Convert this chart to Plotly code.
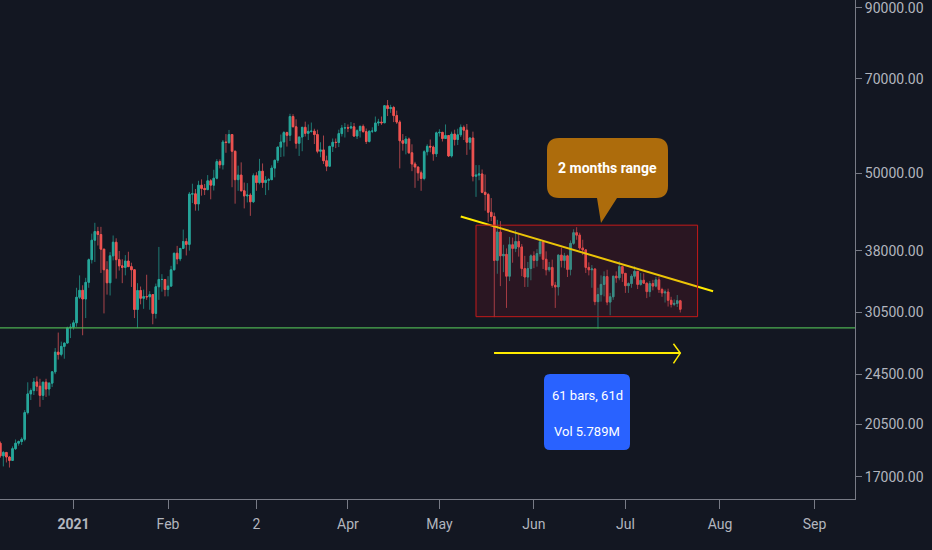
"""BTC daily candles, Dec 2020 - Jul 2021, with the range annotations on a dark chart."""
import pandas as pd
import plotly.graph_objects as go

# values, one row per day starting at FIRST_DAY
FIRST_DAY = "2020-12-08"

opens = [
    19170, 18325, 18550, 18250, 18030, 18800, 19170, 19280, 19440, 21370, 22840, 23110, 23830, 23470, 22720, 23810,
    23240, 23730, 24700, 26490, 26280, 27040, 27360, 28880,
    28950, 29400, 32200, 33000, 32000, 33950, 36800, 39430, 40670, 40240, 38200, 35500, 33900, 37300, 39150, 36800,
    36000, 35800, 36620, 35900, 35500, 30830, 32980, 32080, 32270, 32250, 32500, 30400, 33420, 34300, 34300,
    33100, 33500, 35500, 37650, 36900, 38300, 39250, 38850, 46450, 46500, 44850, 47950, 47400, 47200, 48700, 47950,
    49150, 52150, 51550, 55900, 55800, 57400, 54100, 48900, 49700, 47000, 46150, 46300,
    45200, 49600, 48400, 50400, 48400, 48800, 48900, 50950, 52400, 54900, 55900, 57800, 57250, 61200, 59000, 55650,
    56900, 58900, 57650, 58050, 58100, 57400, 54100, 54350, 52300, 51300, 55050, 55850, 55800, 57600, 58750,
    58800, 58750, 59000, 57100, 58200, 59100, 58000, 56000, 58100, 58100, 59800, 60000, 59850, 63600, 62950, 63200,
    61400, 60000, 56150, 55650, 56500, 53800, 51700, 51150, 50100, 49100, 54000, 55050, 54900, 53600,
    57750, 57850, 56600, 57200, 53200, 57500, 56400, 57350, 58900, 58300, 55850, 56700, 49500, 49700, 49900, 46750,
    46400, 43550, 42900, 36700, 40600, 37300, 37500, 34700, 38800, 38300, 39250, 38500, 35650, 34600, 35650,
    37300, 36700, 37600, 39200, 36850, 35500, 35800, 33600, 33400, 37400, 36700, 37300, 35550, 39000, 40500, 40150,
    38350, 38100, 35800, 35500, 35600, 31700, 32500, 33700, 34650, 31650, 32250, 34700, 34500, 35900,
    35050, 33550, 33800, 34700, 35300, 33700, 34200, 33850, 32850, 33800, 33500, 34250, 33100, 32700, 32800, 31850,
    31400, 31500, 31800,
]
highs = [
    19290, 18640, 18560, 18290, 18950, 19420, 19350, 19570, 21560, 23800, 23285, 24170, 24300, 24100, 23840, 24100,
    23800, 24770, 26880, 28400, 27500, 27400, 29000, 29300,
    29680, 33300, 34800, 33600, 34500, 36950, 40365, 41950, 41350, 41350, 38200, 36600, 37800, 40100, 39700, 37950,
    36850, 37400, 37850, 36400, 35600, 33850, 33450, 33080, 34880, 32900, 32550, 33800, 38500, 34950, 34350,
    34700, 36000, 37700, 38650, 38300, 40950, 39700, 46800, 48200, 47300, 48700, 48950, 48150, 49700, 49000, 50650,
    52600, 52550, 56300, 57500, 58350, 57500, 54200, 51400, 52000, 48400, 48300, 46600,
    50000, 50200, 52650, 51800, 49500, 49200, 51450, 52400, 54900, 57400, 58100, 58000, 61800, 61700, 60600, 56950,
    58950, 60100, 59500, 59900, 58600, 58400, 55850, 57200, 53250, 55100, 56600, 56600, 58400, 59400, 59800,
    59500, 60000, 59800, 58500, 59250, 59500, 58650, 58200, 58900, 61200, 60700, 61200, 63750, 64900, 63800, 63550,
    62500, 60400, 57500, 57100, 56800, 55450, 52100, 51200, 50500, 54300, 55450, 56400, 55200, 58000,
    58500, 57950, 59500, 57200, 58000, 58400, 58600, 59500, 59300, 59600, 56900, 58000, 51500, 51500, 50700, 49800,
    46650, 45800, 43500, 42400, 42200, 38800, 38300, 39900, 39800, 40850, 40400, 38900, 37300, 36500, 37500,
    37900, 38200, 39500, 39200, 37900, 36500, 36800, 34000, 37500, 38400, 37700, 37450, 39400, 41000, 41300, 40500,
    39500, 38200, 36450, 36100, 35700, 33300, 34800, 35300, 35500, 32700, 34700, 35300, 36600, 36000,
    35050, 33950, 34950, 35950, 35300, 35100, 35050, 33900, 34100, 34250, 34600, 34650, 33300, 33100, 33200, 32250,
    31950, 32450, 31900,
]
lows = [
    18200, 17650, 17900, 17580, 18020, 18710, 19000, 19050, 19300, 21230, 22350, 22750, 23060, 21815, 22350, 22600,
    22700, 23400, 24500, 25800, 26100, 25880, 27320, 27850,
    28700, 29000, 32000, 28130, 29900, 33300, 36300, 36500, 38700, 35100, 30400, 32500, 32400, 36700, 34400, 35400,
    33850, 34800, 35900, 33400, 29900, 28850, 31400, 30900, 31900, 30800, 29250, 29850, 31900, 32850, 32300,
    32300, 33400, 35400, 36200, 36600, 38200, 37350, 38000, 45000, 43800, 43800, 46200, 46300, 47100, 45600, 47050,
    48950, 50900, 50700, 53800, 55500, 47600, 44900, 47000, 46900, 44150, 45100, 43000,
    45000, 47000, 48100, 47500, 46300, 47100, 48900, 49300, 51900, 53000, 53100, 55000, 56100, 59000, 54600, 53200,
    54100, 57000, 56300, 57800, 55500, 53700, 52950, 51700, 50400, 51200, 53950, 54700, 54900, 57000, 56800,
    57900, 58500, 56900, 56500, 56800, 57800, 55500, 55800, 57700, 57900, 59200, 59400, 59800, 61300, 62000, 60000,
    59600, 50900, 54200, 53500, 53600, 50400, 47500, 48700, 47000, 48800, 53300, 53900, 52300, 53000,
    57000, 56000, 56500, 53000, 52900, 55200, 55300, 56900, 56300, 53400, 54400, 48600, 46000, 48800, 46600, 43800,
    42100, 42200, 30000, 35000, 33500, 35200, 31000, 34100, 36400, 37800, 37200, 34700, 33400, 33400, 34200,
    35700, 35900, 37200, 35600, 34800, 35250, 33300, 31000, 32400, 35800, 35700, 34600, 34800, 38800, 39500, 38100,
    37400, 35100, 34800, 33300, 31300, 28800, 31700, 32300, 31300, 30200, 31900, 33900, 34200, 34000,
    32700, 32700, 33300, 34400, 33150, 33550, 33800, 32100, 32250, 33000, 33350, 32700, 32250, 31600, 31150, 31050,
    31200, 31100, 30500,
]
closes = [
    18325, 18550, 18250, 18030, 18800, 19170, 19280, 19440, 21370, 22840, 23110, 23830, 23470, 22720, 23810, 23240,
    23730, 24700, 26490, 26280, 27040, 27360, 28880, 28950,
    29400, 32200, 33000, 32000, 33950, 36800, 39430, 40670, 40240, 38200, 35500, 33900, 37300, 39150, 36800, 36000,
    35800, 36620, 35900, 35500, 30830, 32980, 32080, 32270, 32250, 32500, 30400, 33420, 34300, 34300, 33100,
    33500, 35500, 37650, 36900, 38300, 39250, 38850, 46450, 46500, 44850, 47950, 47400, 47200, 48700, 47950, 49150,
    52150, 51550, 55900, 55800, 57400, 54100, 48900, 49700, 47000, 46150, 46300, 45200,
    49600, 48400, 50400, 48400, 48800, 48900, 50950, 52400, 54900, 55900, 57800, 57250, 61200, 59000, 55650, 56900,
    58900, 57650, 58050, 58100, 57400, 54100, 54350, 52300, 51300, 55050, 55850, 55800, 57600, 58750, 58800,
    58750, 59000, 57100, 58200, 59100, 58000, 56000, 58100, 58100, 59800, 60000, 59850, 63600, 62950, 63200, 61400,
    60000, 56150, 55650, 56500, 53800, 51700, 51150, 50100, 49100, 54000, 55050, 54900, 53600, 57750,
    57850, 56600, 57200, 53200, 57500, 56400, 57350, 58900, 58300, 55850, 56700, 49500, 49700, 49900, 46750, 46400,
    43550, 42900, 36700, 40600, 37300, 37500, 34700, 38800, 38300, 39250, 38500, 35650, 34600, 35650, 37300,
    36700, 37600, 39200, 36850, 35500, 35800, 33600, 33400, 37400, 36700, 37300, 35550, 39000, 40500, 40150, 38350,
    38100, 35800, 35500, 35600, 31700, 32500, 33700, 34650, 31650, 32250, 34700, 34500, 35900, 35050,
    33550, 33800, 34700, 35300, 33700, 34200, 33850, 32850, 33800, 33500, 34250, 33100, 32700, 32800, 31850, 31400,
    31500, 31800, 30850,
]

price_ticks = [17000, 20500, 24500, 30500, 38000, 50000, 70000, 90000]
price_labels = ["17000.00", "20500.00", "24500.00", "30500.00", "38000.00", "50000.00", "70000.00", "90000.00"]
date_ticks = ["2021-01-01", "2021-02-01", "2021-03-02", "2021-04-01", "2021-05-01", "2021-06-01", "2021-07-01",
              "2021-08-01", "2021-09-01"]
date_labels = ["<b>2021</b>", "Feb", "2", "Apr", "May", "Jun", "Jul", "Aug", "Sep"]

# drawings on the chart
support_level = 28880
range_dates = ["2021-05-13 00:00", "2021-07-24 16:00"]
range_prices = [30050, 41600]
trend_dates = ["2021-05-08", "2021-07-29 18:00"]
trend_prices = [42900, 32900]
arrow_dates = ["2021-05-18 22:00", "2021-07-19 00:00"]
arrow_price = 26400
chevron_dates = ["2021-07-16 18:00", "2021-07-19 00:00", "2021-07-16 18:00"]
chevron_prices = [27300, 26400, 25450]

BG = "#131722"
UP, DOWN = "#26a69a", "#ef5350"
UP_WICK, DOWN_WICK = "#1f7a74", "#a8444a"
AXIS = "#787b86"
TEXT = "#b2b5be"
FONT = "Roboto"

days = pd.date_range(FIRST_DAY, periods=len(closes), freq="D")
body_tops = [max(o, c) for o, c in zip(opens, closes)]
body_bottoms = [min(o, c) for o, c in zip(opens, closes)]

fig = go.Figure()

# wicks are dimmer than the bodies, so they go in as their own layer underneath
fig.add_trace(go.Candlestick(
    x=days, open=opens, high=highs, low=lows, close=closes,
    increasing=dict(line=dict(color=UP_WICK, width=1), fillcolor=UP_WICK),
    decreasing=dict(line=dict(color=DOWN_WICK, width=1), fillcolor=DOWN_WICK),
    whiskerwidth=0, hoverinfo="skip",
))
fig.add_trace(go.Candlestick(
    x=days, open=opens, high=body_tops, low=body_bottoms, close=closes,
    increasing=dict(line=dict(color=UP, width=1), fillcolor=UP),
    decreasing=dict(line=dict(color=DOWN, width=1), fillcolor=DOWN),
    whiskerwidth=0, hoverinfo="skip",
))

fig.add_trace(go.Scatter(x=["2020-12-01", "2021-09-20"], y=[support_level, support_level], mode="lines",
                         line=dict(color="#4caf50", width=1.3), hoverinfo="skip"))
fig.add_trace(go.Scatter(x=trend_dates, y=trend_prices, mode="lines",
                         line=dict(color="#ffeb00", width=2), hoverinfo="skip"))
fig.add_trace(go.Scatter(x=arrow_dates, y=[arrow_price, arrow_price], mode="lines",
                         line=dict(color="#ffeb00", width=2), hoverinfo="skip"))
fig.add_trace(go.Scatter(x=chevron_dates, y=chevron_prices, mode="lines",
                         line=dict(color="#ffeb00", width=1.5), hoverinfo="skip"))


def pixel_path(path, fill):
    # path is in screen pixels from the top left corner, y negative going down
    return dict(type="path", path=path, xref="paper", yref="paper", xsizemode="pixel", ysizemode="pixel",
                xanchor=0, yanchor=1, fillcolor=fill, line=dict(width=0), layer="above")


shapes = [
    dict(type="rect", xref="x", yref="y", x0=range_dates[0], x1=range_dates[1], y0=range_prices[0], y1=range_prices[1],
         line=dict(color="#c41a1a", width=1), fillcolor="rgba(150,20,40,0.18)", layer="above"),
    pixel_path("M 559 -138 L 656 -138 Q 668 -138 668 -150 L 668 -186 Q 668 -198 656 -198 L 617 -198 L 601 -223 "
               "L 597 -198 L 559 -198 Q 547 -198 547 -186 L 547 -150 Q 547 -138 559 -138 Z", "#ad6c0c"),
    pixel_path("M 550 -374 L 624 -374 Q 630 -374 630 -380 L 630 -444 Q 630 -450 624 -450 L 550 -450 "
               "Q 544 -450 544 -444 L 544 -380 Q 544 -374 550 -374 Z", "#2962ff"),
]

annotations = [
    dict(x=607.5 / 855, y=1 - 168 / 499, text="<b>2 months range</b>", font=dict(color="white", size=14, family=FONT)),
    dict(x=587 / 855, y=1 - 395 / 499, text="61 bars, 61d", font=dict(color="white", size=13, family=FONT)),
    dict(x=587 / 855, y=1 - 431 / 499, text="Vol 5.789M", font=dict(color="white", size=13, family=FONT)),
]
for a in annotations:
    a.update(xref="x domain", yref="y domain", showarrow=False, xanchor="center", yanchor="middle")

fig.update_layout(
    width=932,
    height=550,
    margin=dict(l=0, r=77, t=0, b=51),
    paper_bgcolor=BG,
    plot_bgcolor=BG,
    showlegend=False,
    boxmode="overlay",
    hovermode=False,
    shapes=shapes,
    annotations=annotations,
    font=dict(family=FONT, color=TEXT, size=14),
    xaxis=dict(
        type="date",
        range=["2020-12-07 21:36", "2021-09-14 07:00"],
        rangeslider=dict(visible=False),
        tickvals=date_ticks,
        ticktext=date_labels,
        ticks="outside",
        ticklen=9,
        tickcolor=AXIS,
        ticklabelstandoff=3,
        showgrid=False,
        zeroline=False,
        showline=True,
        linecolor=AXIS,
        linewidth=1,
    ),
    yaxis=dict(
        type="log",
        side="right",
        range=[4.19647, 4.96658],
        tickvals=price_ticks,
        ticktext=price_labels,
        ticks="outside",
        ticklen=6,
        tickcolor=AXIS,
        ticklabeloverflow="allow",
        showgrid=False,
        zeroline=False,
        showline=True,
        linecolor=AXIS,
        linewidth=1,
    ),
)

# the default 8px body margin would push the fixed-size chart out of the window
fig.write_html("out.html", config=dict(displayModeBar=False),
               post_script="document.body.style.margin='0';document.body.style.background='#131722';")
